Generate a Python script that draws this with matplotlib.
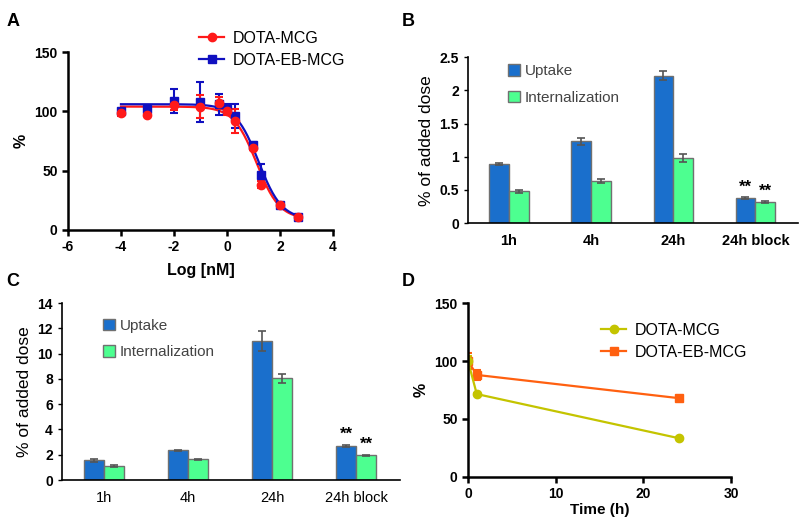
import numpy as np
import matplotlib
matplotlib.use('Agg')
import matplotlib.pyplot as plt

plt.rcParams['font.family'] = ['Liberation Sans', 'DejaVu Sans']
plt.rcParams['axes.unicode_minus'] = False

# ---- panel A: competition binding ----
log_conc = [-4, -3, -2, -1, -0.3, 0, 0.3, 1, 1.3, 2, 2.7]
mcg_pct = [99, 97, 105, 104, 107, 100, 92, 69, 38, 21, 11]
mcg_err = [3, 1, 4, 10, 5, 3, 10, 2, 3, 2, 1]
eb_pct = [100, 102, 109, 108, 106, 102, 96, 72, 46, 21, 11]
eb_err = [2, 3, 10, 17, 9, 4, 10, 2, 10, 2, 1]
# four-parameter logistic fit parameters (top, bottom, logIC50)
mcg_fit = (104, 9, 1.12)
eb_fit = (106, 9, 1.2)

# ---- panels B / C: uptake and internalization ----
time_labels = ['1h', '4h', '24h', '24h block']
b_uptake = [0.89, 1.23, 2.22, 0.38]
b_uptake_err = [0.02, 0.05, 0.07, 0.01]
b_intern = [0.48, 0.64, 0.98, 0.32]
b_intern_err = [0.02, 0.03, 0.06, 0.01]
c_uptake = [1.55, 2.35, 11.0, 2.7]
c_uptake_err = [0.1, 0.03, 0.8, 0.08]
c_intern = [1.1, 1.65, 8.05, 1.95]
c_intern_err = [0.08, 0.03, 0.35, 0.05]

# ---- panel D: stability ----
time_h = [0, 1, 24]
d_mcg = [100, 71.5, 33.5]
d_mcg_err = [4, 1, 1]
d_eb = [100, 88, 68]
d_eb_err = [7, 4, 1]

red = '#FF1A1A'
blue = '#1010C0'
bar_blue = '#1A6FCC'
bar_green = '#4DFF90'
olive = '#C4C400'
orange = '#FF6010'

fig = plt.figure(figsize=(8, 5.2), dpi=100)


def prism_axes(ax, xticks, yticks):
    for s in ['top', 'right']:
        ax.spines[s].set_visible(False)
    for s in ['left', 'bottom']:
        ax.spines[s].set_linewidth(1.8)
    ax.tick_params(width=1.8, length=4)
    ax.set_xticks(xticks)
    ax.set_xticklabels([f'{v:g}' for v in xticks], fontweight='bold', fontsize=10)
    ax.set_yticks(yticks)
    ax.set_yticklabels([f'{v:g}' for v in yticks], fontweight='bold', fontsize=10)


# A
axA = fig.add_axes([0.085, 0.5577, 0.331, 0.3423])
xs = np.linspace(-4, 2.7, 200)
for (top, bot, ic), col in [(mcg_fit, red), (eb_fit, blue)]:
    axA.plot(xs, bot + (top - bot) / (1 + 10 ** (xs - ic)), color=col, lw=1.6)
axA.errorbar(log_conc, eb_pct, yerr=eb_err, fmt='s', color=blue, ms=6,
             capsize=3, elinewidth=1.5, capthick=1.5)
axA.errorbar(log_conc, mcg_pct, yerr=mcg_err, fmt='o', color=red, ms=6,
             capsize=3, elinewidth=1.5, capthick=1.5)
axA.plot([], [], '-o', color=red, lw=1.6, ms=6, label='DOTA-MCG')
axA.plot([], [], '-s', color=blue, lw=1.6, ms=6, label='DOTA-EB-MCG')
axA.set_xlim(-6, 4)
axA.set_ylim(0, 150)
prism_axes(axA, [-6, -4, -2, 0, 2, 4], [0, 50, 100, 150])
axA.set_xlabel('Log [nM]', fontweight='bold', fontsize=11.5, labelpad=6)
axA.set_ylabel('%', fontweight='bold', fontsize=11.5)
axA.legend(loc='upper left', bbox_to_anchor=(0.44, 1.2), frameon=False,
           fontsize=11.5, handlelength=1.6, handletextpad=0.5, labelspacing=0.45)


def bar_panel(rect, up, up_err, it, it_err, ylim, yticks, bold_x, legend_anchor):
    ax = fig.add_axes(rect)
    x = np.arange(len(time_labels))
    w = 0.24
    ekw = dict(ecolor='#555555', elinewidth=1.2, capsize=3, capthick=1.2)
    ax.bar(x - w / 2, up, w, yerr=up_err, color=bar_blue, edgecolor='#707070',
           lw=1, error_kw=ekw, label='Uptake')
    ax.bar(x + w / 2, it, w, yerr=it_err, color=bar_green, edgecolor='#707070',
           lw=1, error_kw=ekw, label='Internalization')
    ax.text(x[-1] - w / 2, up[-1] + up_err[-1] + ylim[1] * 0.015, '**',
            ha='center', va='bottom', fontweight='bold', fontsize=12)
    ax.text(x[-1] + w / 2, it[-1] + it_err[-1] + ylim[1] * 0.015, '**',
            ha='center', va='bottom', fontweight='bold', fontsize=12)
    ax.set_xlim(-0.5, 3.52)
    ax.set_ylim(*ylim)
    ax.set_yticks(yticks)
    ax.set_yticklabels([f'{v:g}' for v in yticks], fontweight='bold', fontsize=10)
    ax.set_xticks(x)
    ax.set_xticklabels(time_labels, fontweight='bold' if bold_x else 'normal',
                       fontsize=10.5)
    for s in ['top', 'right']:
        ax.spines[s].set_visible(False)
    ax.spines['left'].set_linewidth(1.2)
    ax.spines['bottom'].set_linewidth(1.2)
    ax.tick_params(axis='x', length=0, pad=8)
    ax.tick_params(axis='y', length=3, width=1)
    ax.set_ylabel('% of added dose', fontsize=12.5)
    ax.legend(loc='upper left', bbox_to_anchor=legend_anchor, frameon=False,
              fontsize=11, handlelength=0.8, handleheight=0.8,
              handletextpad=0.3, labelspacing=0.8, labelcolor='#444444')
    return ax


bar_panel([0.585, 0.571, 0.4125, 0.319], b_uptake, b_uptake_err, b_intern, b_intern_err,
          (0, 2.5), [0, 0.5, 1, 1.5, 2, 2.5], True, (0.08, 1.04))
bar_panel([0.0775, 0.0769, 0.4225, 0.3404], c_uptake, c_uptake_err, c_intern, c_intern_err,
          (0, 14), [0, 2, 4, 6, 8, 10, 12, 14], False, (0.08, 0.99))

# D
axD = fig.add_axes([0.585, 0.0827, 0.329, 0.3346])
axD.errorbar(time_h, d_eb, yerr=d_eb_err, fmt='-s', color=orange, ms=6, lw=1.6,
             capsize=3, elinewidth=1.5, capthick=1.5)
axD.errorbar(time_h, d_mcg, yerr=d_mcg_err, fmt='-o', color=olive, ms=6, lw=1.6,
             capsize=3, elinewidth=1.5, capthick=1.5)
axD.plot([], [], '-o', color=olive, lw=1.6, ms=6, label='DOTA-MCG')
axD.plot([], [], '-s', color=orange, lw=1.6, ms=6, label='DOTA-EB-MCG')
axD.set_xlim(0, 30)
axD.set_ylim(0, 150)
prism_axes(axD, [0, 10, 20, 30], [0, 50, 100, 150])
axD.set_xlabel('Time (h)', fontweight='bold', fontsize=11, labelpad=1)
axD.set_ylabel('%', fontweight='bold', fontsize=11.5)
axD.legend(loc='upper left', bbox_to_anchor=(0.45, 0.97), frameon=False,
           fontsize=11.5, handlelength=1.6, handletextpad=0.5, labelspacing=0.45)

for lab, (x, y) in zip('ABCD', [(0.008, 0.975), (0.502, 0.975), (0.008, 0.475), (0.502, 0.475)]):
    fig.text(x, y, lab, fontweight='bold', fontsize=13, va='top')

fig.savefig('out.png', dpi=100)
